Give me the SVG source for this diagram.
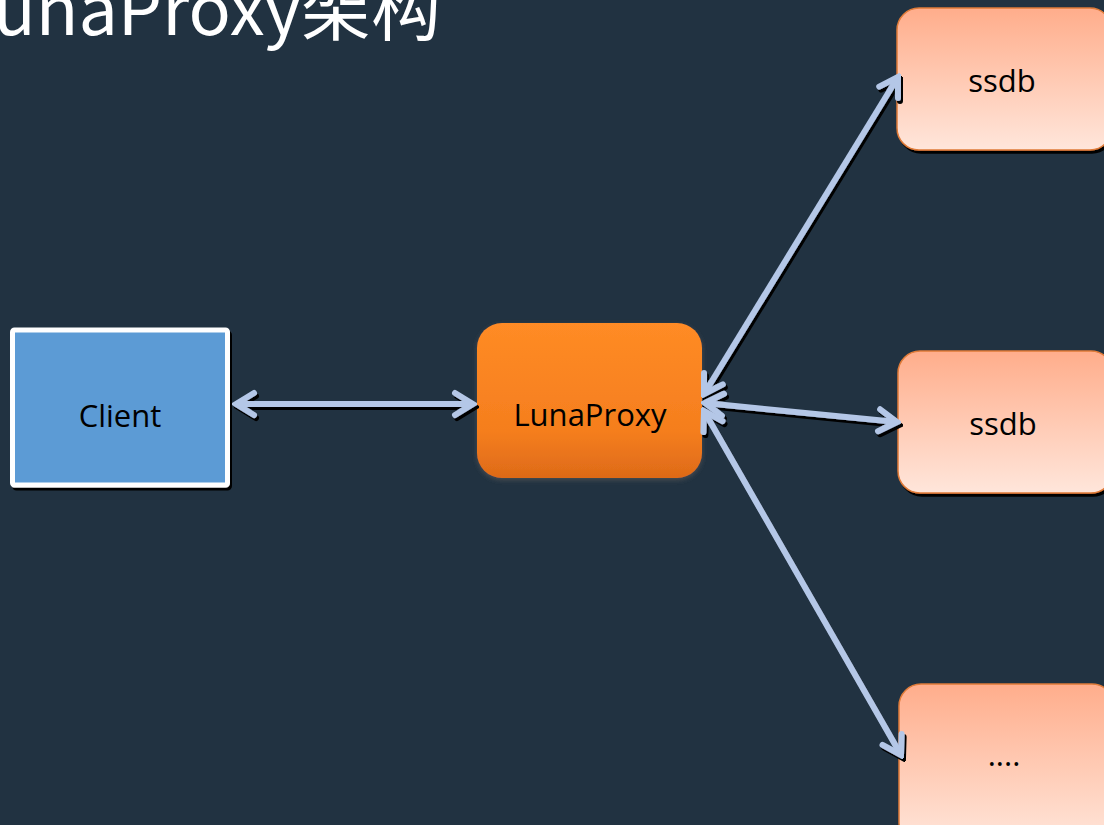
<svg xmlns="http://www.w3.org/2000/svg" width="1104" height="825" viewBox="0 0 1104 825">
<style>
.lbl{font-family:"Open Sans","Noto Sans",sans-serif;font-size:31px;fill:#000;text-anchor:middle}
.conn{stroke:#B4C7E7;stroke-width:6;fill:none}
.db{stroke:#E07B39;stroke-width:1.5;fill:url(#dbg)}
</style>
<defs>
<linearGradient id="dbg" x1="0" y1="0" x2="0" y2="1">
<stop offset="0" stop-color="#FFAD8B"/>
<stop offset="1" stop-color="#FFE6DB"/>
</linearGradient>
<linearGradient id="pg" x1="0" y1="0" x2="0" y2="1">
<stop offset="0" stop-color="#FF8B25"/>
<stop offset="0.7" stop-color="#F57E1E"/>
<stop offset="1" stop-color="#DE6A18"/>
</linearGradient>
<filter id="sh" x="-10%" y="-10%" width="130%" height="130%">
<feDropShadow dx="2" dy="3" stdDeviation="0.6" flood-color="#000" flood-opacity="1"/>
</filter>
<filter id="glow" x="-10%" y="-10%" width="120%" height="120%">
<feDropShadow dx="0" dy="2" stdDeviation="2.5" flood-color="#555" flood-opacity="0.8"/>
</filter>
<marker id="ah" viewBox="0 0 26 30" refX="22" refY="15" markerWidth="26" markerHeight="30" markerUnits="userSpaceOnUse" orient="auto-start-reverse">
<path d="M4,4 L22,15 L4,26" fill="none" stroke="#B4C7E7" stroke-width="6" stroke-linecap="round" stroke-linejoin="miter"/>
</marker>
</defs>
<rect width="1104" height="825" fill="#213241"/>
<text x="441" y="35" text-anchor="end" font-family="Noto Sans CJK SC, sans-serif" font-size="70" fill="#fff">LunaProxy架构</text>
<g id="client">
<rect x="12.5" y="330" width="215" height="155" rx="2" fill="#5B9BD5" stroke="#fff" stroke-width="5" filter="url(#sh)"/>
<text class="lbl" x="120" y="427">Client</text>
</g>
<g id="lunaproxy">
<rect x="477" y="323" width="225" height="155" rx="25" fill="url(#pg)" filter="url(#glow)"/>
<text class="lbl" x="590" y="426">LunaProxy</text>
</g>
<g id="ssdb1">
<rect x="897" y="8" width="215" height="142" rx="22" class="db" filter="url(#sh)"/>
<text class="lbl" x="1002" y="92">ssdb</text>
</g>
<g id="ssdb2">
<rect x="898" y="351" width="215" height="142" rx="22" class="db" filter="url(#sh)"/>
<text class="lbl" x="1003" y="435">ssdb</text>
</g>
<g id="more">
<rect x="899" y="684" width="215" height="160" rx="22" class="db" filter="url(#sh)"/>
<text class="lbl" x="1004" y="766">....</text>
</g>
<g id="connectors" filter="url(#sh)">
<line class="conn" x1="236" y1="404" x2="473" y2="404" marker-start="url(#ah)" marker-end="url(#ah)"/>
<line class="conn" x1="704" y1="394" x2="898" y2="77" marker-start="url(#ah)" marker-end="url(#ah)"/>
<line class="conn" x1="705" y1="403" x2="897" y2="422" marker-start="url(#ah)" marker-end="url(#ah)"/>
<line class="conn" x1="704" y1="411" x2="901" y2="755" marker-start="url(#ah)" marker-end="url(#ah)"/>
</g>
</svg>
